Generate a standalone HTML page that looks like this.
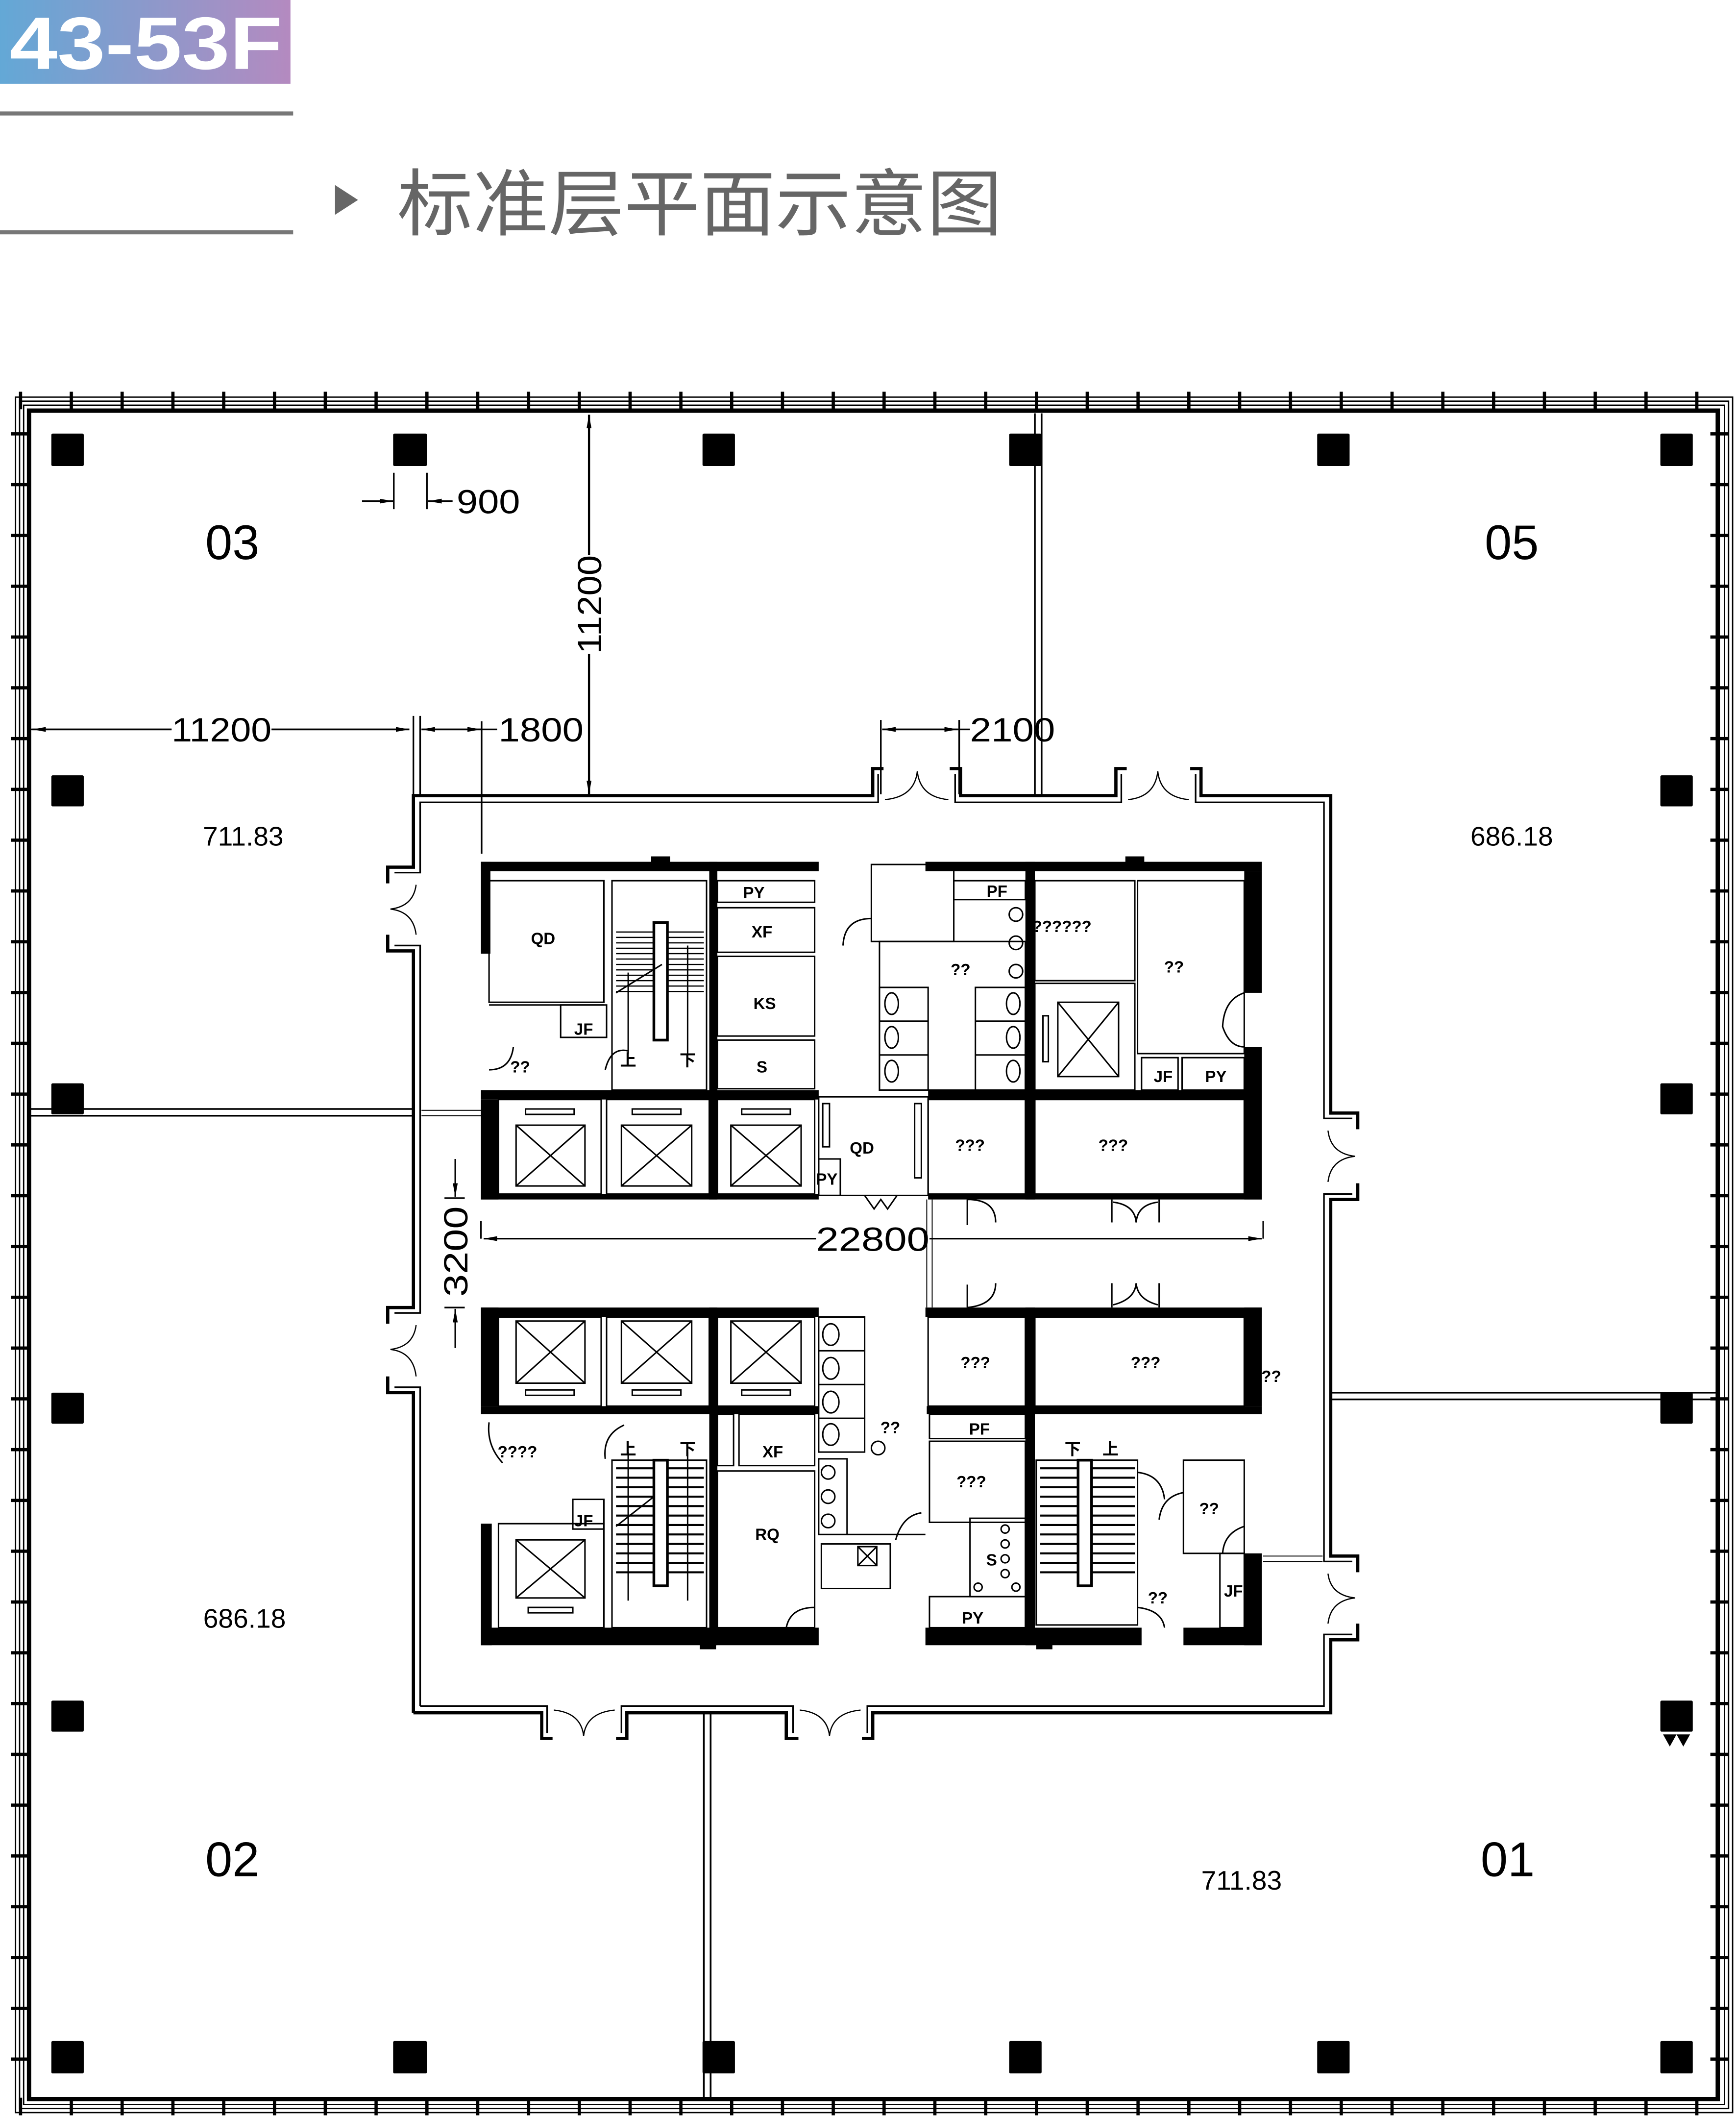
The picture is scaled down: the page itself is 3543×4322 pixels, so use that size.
<!DOCTYPE html>
<html><head><meta charset="utf-8">
<style>
html,body{margin:0;padding:0;background:#fff;}
svg{display:block;}
text{font-family:"Liberation Sans","Noto Sans CJK SC",sans-serif;}
.t{font-weight:bold;font-size:12px;fill:#000;}
</style></head>
<body>
<svg width="3543" height="4322" viewBox="0 0 1285 1568" preserveAspectRatio="none" xmlns="http://www.w3.org/2000/svg">
<defs>
<linearGradient id="g" x1="0" x2="1" y1="0" y2="0">
<stop offset="0" stop-color="#63a8d6"/><stop offset="1" stop-color="#b48ac0"/>
</linearGradient>
<pattern id="tkH" x="14" y="0" width="37.6" height="1568" patternUnits="userSpaceOnUse">
<rect x="0" y="290" width="2.4" height="13" fill="#000"/>
<rect x="0" y="1553" width="2.4" height="13" fill="#000"/>
</pattern>
<pattern id="tkV" x="0" y="320" width="1285" height="37.6" patternUnits="userSpaceOnUse">
<rect x="8" y="0" width="13" height="2.4" fill="#000"/>
<rect x="1266" y="0" width="13" height="2.4" fill="#000"/>
</pattern>
<marker id="ar" markerWidth="10" markerHeight="6" refX="10" refY="3" orient="auto" markerUnits="userSpaceOnUse">
<path d="M0,1.2 L10,3 L0,4.8 Z" fill="#000"/></marker>
</defs>

<!-- header -->
<rect x="0" y="0" width="215" height="62" fill="url(#g)"/>
<text x="7" y="51" font-size="55" font-weight="bold" fill="#fff" textLength="202" lengthAdjust="spacingAndGlyphs">43-53F</text>
<rect x="0" y="82.5" width="217" height="3" fill="#777"/>
<rect x="0" y="170.5" width="217" height="3" fill="#777"/>
<path d="M248,137 L265,148 L248,159 Z" fill="#666"/>
<text x="294" y="170" font-size="54" fill="#666" textLength="448" lengthAdjust="spacingAndGlyphs" style="font-family:'Noto Sans CJK SC',sans-serif">标准层平面示意图</text>

<!-- outer frame -->
<g fill="none" stroke="#000">
<rect x="11.5" y="294" width="1271" height="1270" stroke-width="1"/>
<rect x="14.5" y="297" width="1265" height="1264" stroke-width="1"/>
<rect x="17.5" y="300" width="1259" height="1258" stroke-width="1"/>
<rect x="21.5" y="304" width="1250" height="1250" stroke-width="3.2"/>
</g>
<rect x="14" y="288" width="1258" height="16" fill="url(#tkH)"/>
<rect x="14" y="1551" width="1258" height="17" fill="url(#tkH)"/>
<rect x="6" y="320" width="18" height="1230" fill="url(#tkV)"/>
<rect x="1264" y="320" width="18" height="1230" fill="url(#tkV)"/>

<!-- columns -->
<g fill="#000">
<rect x="38" y="321" width="24" height="24" rx="1"/>
<rect x="291" y="321" width="25" height="24" rx="1"/>
<rect x="520" y="321" width="24" height="24" rx="1"/>
<rect x="747" y="321" width="24" height="24" rx="1"/>
<rect x="975" y="321" width="24" height="24" rx="1"/>
<rect x="1229" y="321" width="24" height="24" rx="1"/>
<rect x="38" y="574" width="24" height="23" rx="1"/>
<rect x="38" y="802" width="24" height="23" rx="1"/>
<rect x="38" y="1031" width="24" height="23" rx="1"/>
<rect x="38" y="1259" width="24" height="23" rx="1"/>
<rect x="1229" y="574" width="24" height="23" rx="1"/>
<rect x="1229" y="802" width="24" height="23" rx="1"/>
<rect x="1229" y="1031" width="24" height="23" rx="1"/>
<rect x="1229" y="1259" width="24" height="23" rx="1"/>
<path d="M1231,1284 L1236,1293 L1241,1284 Z M1241,1284 L1246,1293 L1251,1284 Z"/>
<rect x="38" y="1511" width="24" height="24" rx="1"/>
<rect x="291" y="1511" width="25" height="24" rx="1"/>
<rect x="520" y="1511" width="24" height="24" rx="1"/>
<rect x="747" y="1511" width="24" height="24" rx="1"/>
<rect x="975" y="1511" width="24" height="24" rx="1"/>
<rect x="1229" y="1511" width="24" height="24" rx="1"/>
</g>

<!-- partitions (double lines) -->
<g stroke="#000" stroke-width="1.3" fill="none">
<path d="M766,306 V588 M771,306 V588"/>
<path d="M23,821 H305 M23,826 H305"/>
<path d="M986,1031 H1270 M986,1036 H1270"/>
<path d="M521,1268 V1553 M526,1268 V1553"/>
<path d="M312,822 H356 M312,826 H356" stroke-width="0.7"/>
<path d="M935,1152 H979 M935,1156 H979" stroke-width="0.7"/>
<path d="M686,888 V968 M690,888 V968" stroke-width="0.7"/>
</g>

<!-- core ring -->
<g fill="none" stroke="#000" stroke-linejoin="miter">
<path stroke-width="2.4" d="M306,1268 V1031 H287 V1019 M287,980 V968 H306 V704 H287 V692 M287,654 V642 H306 V589 H646 V569 H654 M703,569 H711 V589 H826 V569 H834 M881,569 H889 V589 H985 V824 H1005 V836 M1005,876 V888 H985 V1152 H1005 V1164 M1005,1202 V1214 H985 V1268 H646 V1287 H638 M591,1287 H582 V1268 H464 V1287 H456 M409,1287 H401 V1268 H306"/>
<path stroke-width="1.2" d="M311,1263 V1027 H292 M292,972 H311 V700 H292 M292,646 H311 V594 H650 V573 M707,573 V594 H830 V573 M885,573 V594 H980 V828 H1001 M1001,884 H980 V1156 H1001 M1001,1210 H980 V1263 H642 V1283 M587,1283 V1263 H460 V1283 M405,1283 V1263 H311"/>
<!-- door cusp arcs -->
<g stroke-width="0.9">
<path d="M655,592 Q677,590 679,571 Q681,590 702,592"/>
<path d="M835,592 Q855,590 857,571 Q859,590 880,592"/>
<path d="M410,1266 Q430,1268 432,1285 Q434,1268 455,1266"/>
<path d="M592,1266 Q612,1268 614,1285 Q616,1268 637,1266"/>
<path d="M308,655 Q306,671 289,673 Q306,675 308,692"/>
<path d="M308,981 Q306,997 289,999 Q306,1001 308,1019"/>
<path d="M983,837 Q985,854 1003,856 Q985,858 983,875"/>
<path d="M983,1165 Q985,1181 1003,1183 Q985,1185 983,1202"/>
</g>
</g>

<!-- ===== CORE BLOCKS ===== -->
<g fill="#000">
<rect x="356" y="638" width="250" height="7"/>
<rect x="356" y="638" width="7" height="68"/>
<rect x="356" y="807" width="250" height="7"/>
<rect x="525" y="638" width="6" height="250"/>
<rect x="356" y="814" width="13" height="74"/>
<rect x="356" y="884" width="250" height="4"/>
<rect x="482" y="634" width="14" height="5"/>
<rect x="685" y="638" width="249" height="7"/>
<rect x="921" y="645" width="13" height="90"/>
<rect x="921" y="775" width="13" height="113"/>
<rect x="759" y="638" width="7" height="250"/>
<rect x="687" y="807" width="247" height="7"/>
<rect x="687" y="884" width="247" height="4"/>
<rect x="833" y="634" width="14" height="5"/>
<rect x="356" y="968" width="250" height="7"/>
<rect x="356" y="968" width="13" height="73"/>
<rect x="356" y="1041" width="250" height="6"/>
<rect x="525" y="968" width="6" height="250"/>
<rect x="356" y="1205" width="250" height="13"/>
<rect x="356" y="1128" width="8" height="90"/>
<rect x="518" y="1216" width="12" height="5"/>
<rect x="685" y="968" width="249" height="7"/>
<rect x="921" y="968" width="13" height="73"/>
<rect x="686" y="1041" width="248" height="6"/>
<rect x="759" y="968" width="7" height="250"/>
<rect x="685" y="1205" width="160" height="13"/>
<rect x="876" y="1205" width="58" height="13"/>
<rect x="921" y="1150" width="13" height="68"/>
<rect x="767" y="1216" width="12" height="5"/>
</g>

<g fill="none" stroke="#000" stroke-width="1.1">
<rect x="362" y="652" width="85" height="90"/>
<rect x="415" y="744" width="34" height="24"/>
<rect x="453" y="652" width="70" height="155"/>
<rect x="484" y="683" width="10" height="87" stroke-width="2"/>
<path d="M456,690 H484 M456,694 H484 M456,698 H484 M456,702 H484 M456,706 H484 M456,710 H484 M456,714 H484 M456,718 H484 M456,722 H484 M456,726 H484 M456,730 H484 M456,734 H484 M494,690 H521 M494,694 H521 M494,698 H521 M494,702 H521 M494,706 H521 M494,710 H521 M494,714 H521 M494,718 H521 M494,722 H521 M494,726 H521 M494,730 H521 M494,734 H521" stroke-width="0.9"/>
<path d="M465,720 V780 M509,700 V780 M456,735 L490,714"/>
<rect x="531" y="652" width="72" height="16"/>
<rect x="531" y="672" width="72" height="33"/>
<rect x="531" y="708" width="72" height="59"/>
<rect x="531" y="770" width="72" height="36"/>
<path d="M362,744 H447 M362,792 Q378,792 380,775 M448,792 Q452,775 465,778"/>
<rect x="369" y="814" width="76" height="70"/><rect x="449" y="814" width="76" height="70"/><rect x="531" y="814" width="72" height="70"/>
<rect x="382" y="833" width="51" height="45"/><path d="M382,833 L433,878 M433,833 L382,878"/>
<rect x="460" y="833" width="52" height="45"/><path d="M460,833 L512,878 M512,833 L460,878"/>
<rect x="541" y="833" width="52" height="45"/><path d="M541,833 L593,878 M593,833 L541,878"/>
<rect x="389" y="821" width="36" height="4"/><rect x="468" y="821" width="36" height="4"/><rect x="549" y="821" width="36" height="4"/>
<rect x="606" y="812" width="81" height="73"/>
<rect x="606" y="858" width="16" height="27"/>
<rect x="609" y="817" width="5" height="32"/><rect x="677" y="817" width="5" height="55"/>
<path d="M640,885 L647,895 L652,888 L657,895 L664,885"/>
<rect x="645" y="640" width="61" height="57"/>
<rect x="651" y="697" width="108" height="110"/>
<rect x="651" y="731" width="36" height="76"/><path d="M651,756 H687 M651,781 H687"/>
<rect x="722" y="731" width="37" height="76"/><path d="M722,756 H759 M722,781 H759"/>
<circle cx="752" cy="677" r="5"/><circle cx="752" cy="698" r="5"/><circle cx="752" cy="719" r="5"/>
<ellipse cx="660" cy="743" rx="5" ry="8"/><ellipse cx="660" cy="768" rx="5" ry="8"/><ellipse cx="660" cy="793" rx="5" ry="8"/>
<ellipse cx="750" cy="743" rx="5" ry="8"/><ellipse cx="750" cy="768" rx="5" ry="8"/><ellipse cx="750" cy="793" rx="5" ry="8"/>
<path d="M645,680 Q625,680 624,700" />
<rect x="706" y="652" width="53" height="14"/>
<rect x="766" y="652" width="74" height="74"/>
<rect x="766" y="728" width="74" height="79"/>
<rect x="783" y="742" width="45" height="55"/><path d="M783,742 L828,797 M828,742 L783,797"/>
<rect x="772" y="752" width="4" height="34"/>
<rect x="842" y="652" width="79" height="128"/>
<rect x="845" y="783" width="27" height="24"/><rect x="875" y="783" width="46" height="24"/>
<path d="M921,735 Q906,740 905,760 Q910,775 921,775"/>
<rect x="687" y="814" width="72" height="70"/><rect x="766" y="814" width="155" height="70"/>
<path d="M716,888 V907 M716,888 Q737,888 737,905 M823,888 V905 M858,888 V905 M824,890 Q840,892 841,905 M857,890 Q842,892 841,905"/>
<path d="M356,917 V904 M935,917 V904"/>
<rect x="369" y="975" width="76" height="66"/><rect x="449" y="975" width="76" height="66"/><rect x="531" y="975" width="72" height="66"/>
<rect x="382" y="978" width="51" height="46"/><path d="M382,978 L433,1024 M433,978 L382,1024"/>
<rect x="460" y="978" width="52" height="46"/><path d="M460,978 L512,1024 M512,978 L460,1024"/>
<rect x="541" y="978" width="52" height="46"/><path d="M541,978 L593,1024 M593,978 L541,1024"/>
<rect x="389" y="1029" width="36" height="4"/><rect x="468" y="1029" width="36" height="4"/><rect x="549" y="1029" width="36" height="4"/>
<rect x="369" y="1128" width="78" height="77"/>
<rect x="382" y="1140" width="51" height="43"/><path d="M382,1140 L433,1183 M433,1140 L382,1183"/>
<rect x="391" y="1190" width="33" height="4"/>
<rect x="424" y="1110" width="23" height="22"/>
<rect x="453" y="1081" width="70" height="124"/>
<rect x="484" y="1081" width="10" height="93" stroke-width="2"/>
<path d="M456,1087 H484 M456,1094 H484 M456,1101 H484 M456,1108 H484 M456,1115 H484 M456,1122 H484 M456,1129 H484 M456,1136 H484 M456,1143 H484 M456,1150 H484 M456,1157 H484 M456,1164 H484 M494,1087 H521 M494,1094 H521 M494,1101 H521 M494,1108 H521 M494,1115 H521 M494,1122 H521 M494,1129 H521 M494,1136 H521 M494,1143 H521 M494,1150 H521 M494,1157 H521 M494,1164 H521" stroke-width="1.5"/>
<path d="M456,1130 L484,1108 M465,1075 V1185 M509,1075 V1185"/>
<path d="M362,1053 Q360,1070 372,1083 M448,1080 Q446,1062 462,1055"/>
<rect x="531" y="1047" width="12" height="38"/><rect x="547" y="1047" width="56" height="38"/>
<rect x="531" y="1089" width="72" height="116"/>
<path d="M603,1190 Q585,1190 582,1205"/>
<rect x="606" y="975" width="34" height="100"/><path d="M606,1000 H640 M606,1025 H640 M606,1050 H640"/>
<ellipse cx="615" cy="988" rx="6" ry="8"/><ellipse cx="615" cy="1013" rx="6" ry="8"/><ellipse cx="615" cy="1038" rx="6" ry="8"/><ellipse cx="615" cy="1062" rx="6" ry="8"/>
<rect x="606" y="1080" width="21" height="56"/>
<circle cx="613" cy="1090" r="5"/><circle cx="613" cy="1108" r="5"/><circle cx="613" cy="1126" r="5"/>
<circle cx="650" cy="1072" r="5"/>
<path d="M627,1136 H685 M682,1120 Q668,1122 663,1140"/>
<rect x="608" y="1143" width="51" height="33"/>
<rect x="635" y="1145" width="14" height="14"/><path d="M635,1145 L649,1159 M649,1145 L635,1159"/>
<rect x="687" y="975" width="72" height="66"/><rect x="766" y="975" width="155" height="66"/>
<path d="M716,968 V951 M716,968 Q737,966 737,950 M823,968 V950 M858,968 V950 M824,966 Q840,962 841,950 M857,966 Q842,962 841,950"/>
<rect x="688" y="1047" width="71" height="18"/>
<rect x="688" y="1067" width="71" height="60"/>
<rect x="718" y="1124" width="41" height="58"/>
<rect x="688" y="1182" width="71" height="23"/>
<circle cx="744" cy="1132" r="3"/><circle cx="744" cy="1143" r="3"/><circle cx="744" cy="1154" r="3"/><circle cx="744" cy="1165" r="3"/><circle cx="724" cy="1175" r="3"/><circle cx="752" cy="1175" r="3"/>
<rect x="767" y="1081" width="75" height="122"/>
<rect x="798" y="1081" width="10" height="93" stroke-width="2"/>
<path d="M770,1087 H798 M770,1094 H798 M770,1101 H798 M770,1108 H798 M770,1115 H798 M770,1122 H798 M770,1129 H798 M770,1136 H798 M770,1143 H798 M770,1150 H798 M770,1157 H798 M770,1164 H798 M808,1087 H840 M808,1094 H840 M808,1101 H840 M808,1108 H840 M808,1115 H840 M808,1122 H840 M808,1129 H840 M808,1136 H840 M808,1143 H840 M808,1150 H840 M808,1157 H840 M808,1164 H840" stroke-width="1.5"/>
<rect x="876" y="1081" width="45" height="69"/>
<rect x="903" y="1150" width="18" height="55"/>
<path d="M842,1090 Q860,1092 862,1110 M876,1105 Q860,1108 858,1125 M842,1190 Q860,1192 862,1205 M921,1130 Q906,1135 905,1150"/>
</g>

<!-- core labels -->
<g class="t" text-anchor="middle">
<text x="402" y="699" class="t">QD</text>
<text x="432" y="766" class="t" font-size="11">JF</text>
<text x="385" y="794" class="t" font-size="11">??</text>
<text x="558" y="665" class="t" font-size="11">PY</text>
<text x="564" y="694" class="t">XF</text>
<text x="566" y="747" class="t">KS</text>
<text x="564" y="794" class="t">S</text>
<text x="738" y="664" class="t" font-size="11">PF</text>
<text x="711" y="722" class="t" font-size="11">??</text>
<text x="786" y="690" class="t" font-size="11">??????</text>
<text x="869" y="720" class="t" font-size="11">??</text>
<text x="861" y="801" class="t" font-size="11">JF</text>
<text x="900" y="801" class="t" font-size="11">PY</text>
<text x="638" y="854" class="t" font-size="11">QD</text>
<text x="612" y="877" class="t" font-size="9">PY</text>
<text x="718" y="852" class="t" font-size="11">???</text>
<text x="824" y="852" class="t" font-size="11">???</text>
<text x="722" y="1013" class="t" font-size="11">???</text>
<text x="848" y="1013" class="t" font-size="11">???</text>
<text x="941" y="1023" class="t" font-size="11">??</text>
<text x="383" y="1079" class="t" font-size="11">????</text>
<text x="432" y="1130" class="t" font-size="10">JF</text>
<text x="572" y="1079" class="t" font-size="11">XF</text>
<text x="659" y="1061" class="t" font-size="11">??</text>
<text x="725" y="1062" class="t" font-size="11">PF</text>
<text x="719" y="1101" class="t" font-size="11">???</text>
<text x="568" y="1140" class="t">RQ</text>
<text x="734" y="1159" class="t">S</text>
<text x="720" y="1202" class="t" font-size="11">PY</text>
<text x="895" y="1121" class="t" font-size="11">??</text>
<text x="857" y="1187" class="t" font-size="11">??</text>
<text x="913" y="1182" class="t" font-size="10">JF</text>
<text x="465" y="1077" class="t" font-size="10">上</text>
<text x="509" y="1077" class="t" font-size="10">下</text>
<text x="465" y="789" class="t" font-size="10">上</text>
<text x="509" y="789" class="t" font-size="10">下</text>
<text x="794" y="1077" class="t" font-size="10">下</text>
<text x="822" y="1077" class="t" font-size="10">上</text>
</g>

<!-- dimensions -->
<g stroke="#000" stroke-width="1.2" fill="none">
<path d="M23,540 H127 M201,540 H303" />
<path d="M201,540 H303" marker-end="url(#ar)"/>
<path d="M127,540 H24" marker-end="url(#ar)"/>
<path d="M306,530 V588 M311,530 V588 M356.5,534 V632"/>
<path d="M312,540 H356" marker-end="url(#ar)"/>
<path d="M356,540 H312" marker-end="url(#ar)"/>
<path d="M356,540 H368"/>
<path d="M652,533 V588 M710,533 V588"/>
<path d="M653,540 H709" marker-end="url(#ar)"/>
<path d="M709,540 H653" marker-end="url(#ar)"/>
<path d="M709,540 H718"/>
<path d="M291.5,350 V377 M316,350 V377"/>
<path d="M268,371 H291" marker-end="url(#ar)"/>
<path d="M335,371 H317" marker-end="url(#ar)"/>
<path d="M436,411 V307" marker-end="url(#ar)" stroke-width="1.6"/>
<path d="M436,484 V588" marker-end="url(#ar)" stroke-width="1.6"/>
<path d="M329,887 H344 M329,968 H344"/>
<path d="M337,858 V886" marker-end="url(#ar)"/>
<path d="M337,998 V969" marker-end="url(#ar)"/>
<path d="M604,917 H358" marker-end="url(#ar)"/>
<path d="M688,917 H934" marker-end="url(#ar)"/>
</g>
<g font-size="25" fill="#000">
<text x="127" y="549" textLength="74" lengthAdjust="spacingAndGlyphs">11200</text>
<text x="369" y="549" textLength="63" lengthAdjust="spacingAndGlyphs">1800</text>
<text x="718" y="549" textLength="63" lengthAdjust="spacingAndGlyphs">2100</text>
<text x="338" y="380" textLength="47" lengthAdjust="spacingAndGlyphs">900</text>
<text x="604" y="926" textLength="84" lengthAdjust="spacingAndGlyphs">22800</text>
<text transform="translate(445,484) rotate(-90)" textLength="73" lengthAdjust="spacingAndGlyphs">11200</text>
<text transform="translate(346,960) rotate(-90)" textLength="67" lengthAdjust="spacingAndGlyphs">3200</text>
</g>

<!-- unit labels -->
<g fill="#000" font-size="36" text-anchor="middle">
<text x="172" y="414">03</text>
<text x="1119" y="414">05</text>
<text x="172" y="1389">02</text>
<text x="1116" y="1389">01</text>
</g>
<g fill="#000" font-size="20" text-anchor="middle">
<text x="180" y="626">711.83</text>
<text x="1119" y="626">686.18</text>
<text x="181" y="1205">686.18</text>
<text x="919" y="1399">711.83</text>
</g>
</svg>
</body></html>
